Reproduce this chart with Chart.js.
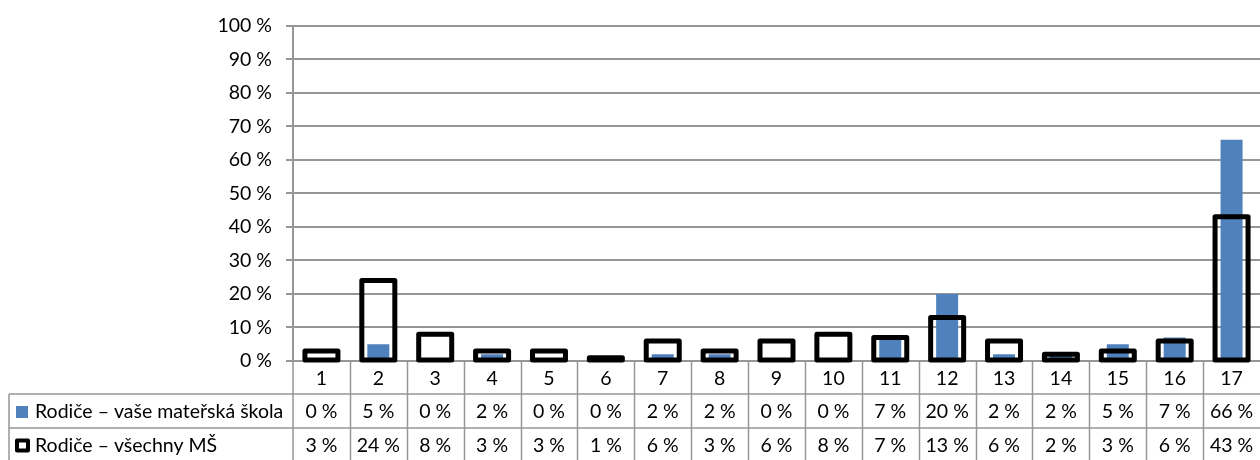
<!DOCTYPE html>
<html>
<head>
<meta charset="utf-8">
<script src="https://cdn.jsdelivr.net/npm/chart.js@4.4.1/dist/chart.umd.min.js"></script>
<style>
  html, body { margin: 0; padding: 0; background: #fff; }
  #wrap { width: 1260px; height: 460px; position: relative; }
</style>
</head>
<body>
<div id="wrap"><canvas id="chart" width="1260" height="460"></canvas></div>
<script>
// data
const categories = ['1','2','3','4','5','6','7','8','9','10','11','12','13','14','15','16','17'];
const vaseSkola = [0, 5, 0, 2, 0, 0, 2, 2, 0, 0, 7, 20, 2, 2, 5, 7, 66];
const vsechnyMS = [3, 24, 8, 3, 3, 1, 6, 3, 6, 8, 7, 13, 6, 2, 3, 6, 43];
const seriesNames = ['Rodiče – vaše mateřská škola', 'Rodiče – všechny MŠ'];

const FONT = 'Lato, "Open Sans", sans-serif';
const FSIZE = 19.5;
const GRID = '#969696';
const BLUE = '#4f81bd';

// excel style outline: stroke centred on the bar edges, drawn over the blue bars
const outlineBars = {
  id: 'outlineBars',
  afterDatasetsDraw(chart) {
    const meta = chart.getDatasetMeta(0);
    const ctx = chart.ctx;
    ctx.save();
    ctx.strokeStyle = '#000';
    ctx.lineWidth = 5;
    ctx.lineJoin = 'round';
    meta.data.forEach(bar => {
      let p = bar.getProps(['x', 'y', 'base', 'width'], true);
      ctx.strokeRect(p.x - p.width / 2, p.y, p.width, p.base - p.y);
    });
    ctx.restore();
  }
};

// draws the data table under the axis
const dataTable = {
  id: 'dataTable',
  afterDraw(chart) {
    const ctx = chart.ctx;
    const x = chart.scales.x;
    const area = chart.chartArea;
    const w = x.getPixelForValue(1) - x.getPixelForValue(0);
    const top = x.top;
    const bottom = chart.height;
    const row1 = top + 33, row2 = top + 67;
    ctx.save();
    ctx.strokeStyle = GRID;
    ctx.lineWidth = 1.5;
    ctx.beginPath();
    ctx.moveTo(9, row1); ctx.lineTo(chart.width, row1);
    ctx.moveTo(9, row2); ctx.lineTo(chart.width, row2);
    ctx.moveTo(9, row1); ctx.lineTo(9, bottom);
    ctx.moveTo(area.left, top); ctx.lineTo(area.left, bottom);
    for (let i = 1; i < categories.length; i++) {
      let xl = Math.round(x.getPixelForValue(i) - w / 2) + 0.5;
      ctx.moveTo(xl, top); ctx.lineTo(xl, bottom);
    }
    ctx.stroke();

    ctx.font = FSIZE + 'px ' + FONT;
    ctx.fillStyle = '#000';
    ctx.textBaseline = 'middle';
    const c1 = (row1 + row2) / 2 + 1, c2 = (row2 + bottom) / 2 + 1.5;
    ctx.textAlign = 'center';
    categories.forEach((c, i) => {
      let cx = x.getPixelForValue(i);
      ctx.fillText(vaseSkola[i] + ' %', cx, c1);
      ctx.fillText(vsechnyMS[i] + ' %', cx, c2);
    });

    // legend keys + names
    ctx.fillStyle = BLUE;
    ctx.fillRect(16, c1 - 6, 12, 12);
    ctx.strokeStyle = '#000';
    ctx.lineWidth = 4;
    ctx.lineJoin = 'round';
    ctx.strokeRect(17, c2 - 5, 11, 10);
    ctx.fillStyle = '#000';
    ctx.textAlign = 'left';
    ctx.fillText(seriesNames[0], 35, c1);
    ctx.fillText(seriesNames[1], 35, c2);
    ctx.restore();
  }
};

new Chart(document.getElementById('chart'), {
  type: 'bar',
  data: {
    labels: categories,
    datasets: [
      {
        label: seriesNames[1],
        data: vsechnyMS,
        backgroundColor: 'rgba(0,0,0,0)',
        borderWidth: 0,
        barThickness: 33,
        inflateAmount: 0,
        grouped: false,
        order: 1
      },
      {
        label: seriesNames[0],
        data: vaseSkola,
        backgroundColor: BLUE,
        borderWidth: 0,
        barThickness: 22,
        inflateAmount: 0,
        grouped: false,
        order: 2
      }
    ]
  },
  options: {
    responsive: false,
    animation: false,
    layout: { padding: { top: 23, left: 0, right: 0, bottom: 0 } },
    plugins: { legend: { display: false }, tooltip: { enabled: false } },
    scales: {
      x: {
        offset: true,
        grid: { display: false, drawTicks: false },
        border: { display: true, color: GRID, width: 2 },
        ticks: { color: '#000', font: { family: FONT, size: FSIZE }, padding: 6, maxRotation: 0 },
        afterFit(s) { s.height = 99; }
      },
      y: {
        min: 0,
        max: 100,
        ticks: { stepSize: 10, color: '#000', font: { family: FONT, size: FSIZE }, padding: 14,
                 callback: v => v + ' %' },
        grid: { color: GRID, lineWidth: 2, tickLength: 7 },
        border: { display: true, color: GRID, width: 2 },
        afterFit(s) { s.width = 293; }
      }
    }
  },
  plugins: [outlineBars, dataTable]
});
</script>
</body>
</html>
